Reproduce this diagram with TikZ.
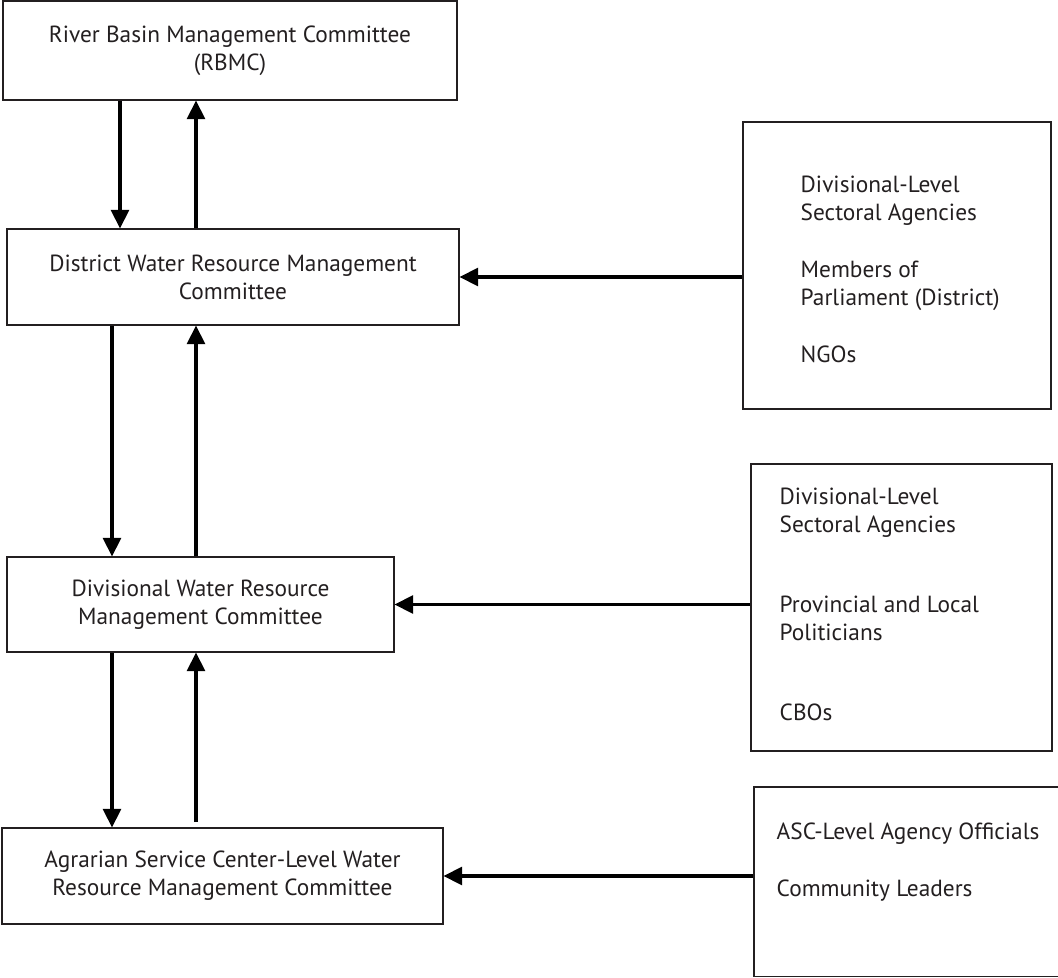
\documentclass[tikz,border=0pt]{standalone}
\usepackage{fontspec}
\setmainfont{PT Sans}
\usetikzlibrary{arrows.meta}

\begin{document}
\begin{tikzpicture}
[x=0.75pt,y=-0.75pt,
box/.style={rectangle,draw={rgb, 255:red, 35; green, 31; blue, 32 },line width=0.8pt,inner sep=0pt,align=center,text={rgb, 255:red, 35; green, 31; blue, 32 }},
src/.style={rectangle,draw={rgb, 255:red, 35; green, 31; blue, 32 },line width=0.8pt,inner sep=0pt},
srctext/.style={anchor=north west,inner sep=0pt,align=left,text={rgb, 255:red, 35; green, 31; blue, 32 }},
flow/.style={-{Triangle[length=14pt,width=13.5pt]},line width=2.4pt},
font=\fontsize{17.5}{21}\selectfont]
\useasboundingbox (0,0) rectangle (1058,978);
%%%%% COMMITTEES
\node[box,minimum width=340.5pt,minimum height=74.25pt] (rbmc) at (230,50.5) {River Basin Management Committee\\(RBMC)};
\node[box,minimum width=339pt,minimum height=72pt] (dwrmc) at (233,277) {District Water Resource Management\\Committee};
\node[box,minimum width=290.25pt,minimum height=71.25pt] (divwrmc) at (200.5,604.5) {Divisional Water Resource\\Management Committee};
\node[box,minimum width=330.75pt,minimum height=72pt] (ascwrmc) at (222.5,876) {Agrarian Service Center-Level Water\\Resource Management Committee};
%%%%% MEMBERS
\node[src,minimum width=231pt,minimum height=215.25pt] (src1) at (897,265.5) {};
\node[src,minimum width=225.75pt,minimum height=215.25pt] (src2) at (901.5,607.5) {};
\node[src,minimum width=231pt,minimum height=142.1pt] (src3) at (908,881.75) {};
\node[srctext] (src1txt) at ([shift={(58,54)}]src1.north west) {Divisional-Level\\Sectoral Agencies\\[22pt]Members of\\Parliament (District)\\[22pt]NGOs};
\node[srctext] (src2txt) at ([shift={(29,24)}]src2.north west) {Divisional-Level\\Sectoral Agencies\\[39pt]Provincial and Local\\Politicians\\[39pt]CBOs};
\node[srctext] (src3txt) at ([shift={(23,36)}]src3.north west) {ASC-Level Agency Officials\\[22pt]Community Leaders};
%%%%% UP AND DOWN
\foreach \upper/\lower/\dx/\gap in {rbmc/dwrmc/120/0, dwrmc/divwrmc/112/0, divwrmc/ascwrmc/112/4}
{
	\draw[flow] (\upper.south -| \dx,0) -- (\lower.north -| \dx,0);
	\draw[flow,shorten <=\gap pt] (\lower.north -| 196,0) -- (\upper.south -| 196,0);
};
%%%%% INTO THE COMMITTEES
\foreach \s/\d in {src1/dwrmc, src2/divwrmc, src3/ascwrmc}
{
	\draw[flow] (\s.west |- \d.east) -- (\d.east);
};
\end{tikzpicture}
\end{document}
